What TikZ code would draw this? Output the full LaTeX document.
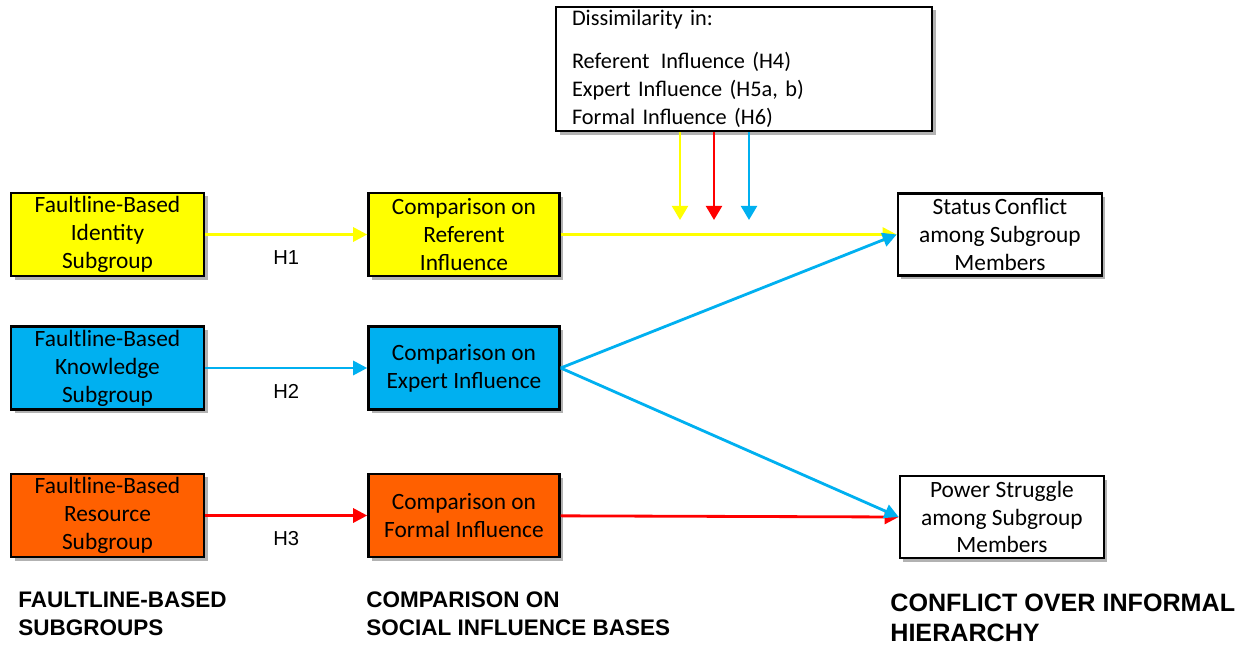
\documentclass[tikz,border=0pt]{standalone}
\usepackage{fontspec}
\setmainfont{Carlito}
\newfontfamily\arialfont{Liberation Sans}
\usetikzlibrary{positioning,arrows.meta,shadows}
\definecolor{fyellow}{HTML}{FFFF00}
\definecolor{fblue}{HTML}{00B0F0}
\definecolor{forange}{HTML}{FF6000}
\definecolor{fred}{HTML}{FF0000}
\tikzset{fbox/.style={draw=black,line width=1.4pt,minimum width=3.86cm,minimum height=1.66cm,
           align=center,inner sep=2pt,font=\fontsize{13.3}{15.9}\selectfont,
           drop shadow={shadow xshift=2pt,shadow yshift=-2pt,opacity=.3,fill=black}},
	 outbox/.style={fbox,fill=white,minimum width=4.08cm,minimum height=1.64cm},
	 harr/.style={line width=1.6pt,-{Triangle[length=8pt,width=8pt]}},
	 varr/.style={line width=1.6pt,-{Triangle[length=8pt,width=9pt]}},
	 hlab/.style={font=\arialfont\fontsize{11.5}{14}\selectfont,text=black,below=5pt},
	 colhead/.style={font=\arialfont\bfseries\fontsize{12.8}{15.9}\selectfont,align=left,anchor=west,inner sep=0pt},
	 node distance = 3.24cm
	 }
\begin{document}
\begin{tikzpicture}
	\useasboundingbox (0,0) rectangle (24.94,-12.96);
	% subgroups
	\node[fbox,fill=fyellow] (fi) at (2.15,-4.69) {Faultline-Based\\Identity\\Subgroup};
	\node[fbox,fill=fblue] (fk) at (2.15,-7.36) {Faultline-Based\\Knowledge\\Subgroup};
	\node[fbox,fill=forange] (fr) at (2.15,-10.31) {Faultline-Based\\Resource\\Subgroup};
	% comparisons
	\node[fbox,fill=fyellow,minimum width=3.82cm] (cr) [right=of fi] {Comparison on\\Referent\\Influence};
	\node[fbox,fill=fblue,minimum width=3.82cm] (ce) [right=of fk] {Comparison on\\Expert Influence};
	\node[fbox,fill=forange,minimum width=3.82cm] (cf) [right=of fr] {Comparison on\\Formal Influence};
	% conflicts
	\node[outbox] (sc) [right=6.72cm of cr] {Status\,Conflict\\among Subgroup\\Members};
	\node[outbox] (ps) [right=6.76cm of cf,yshift=-0.03cm] {Power Struggle\\among Subgroup\\Members};
	% moderators
	\node[fbox,fill=white,minimum width=7.52cm,minimum height=2.44cm,text width=6.88cm,align=left,
	  font=\fontsize{12.7}{15.9}\selectfont] (dis) at (14.88,-1.38)
	  {Dissimilarity in:\\[8.5pt] Referent\, Influence (H4)\\ Expert Influence (H5a, b)\\ Formal Influence (H6)};
	\coordinate (yt) at (13.6,-4.4);
	\coordinate (rt) at (14.28,-4.4);
	\coordinate (bt) at (14.98,-4.4);

	\draw[harr,fyellow] (fi) -- node[hlab] {H1} (cr);
	\draw[harr,fblue] (fk) -- node[hlab] {H2} (ce);
	\draw[harr,fred] (fr) -- node[hlab] {H3} (cf);
	\draw[harr,fyellow] (cr) -- (sc.west);
	\draw[harr,fred] (cf) -- (ps.west);
	\draw[harr,fblue] (ce.east) -- (sc.west); \draw[harr,fblue] (ce.east) -- (ps.west);
	\draw[varr,fyellow] (dis.south -| yt) -- (yt);
	\draw[varr,fred] (dis.south -| rt) -- (rt);
	\draw[varr,fblue] (dis.south -| bt) -- (bt);

	% column titles
	\node[colhead] (t1) at (0.36,-12.28) {FAULTLINE-BASED\\SUBGROUPS};
	\node[colhead] (t2) at (7.32,-12.28) {COMPARISON ON\\SOCIAL INFLUENCE BASES};
	\node[colhead,font=\arialfont\bfseries\fontsize{14.3}{17}\selectfont] (t3) at (17.8,-12.36) {CONFLICT OVER INFORMAL\\HIERARCHY};
\end{tikzpicture}
\end{document}
